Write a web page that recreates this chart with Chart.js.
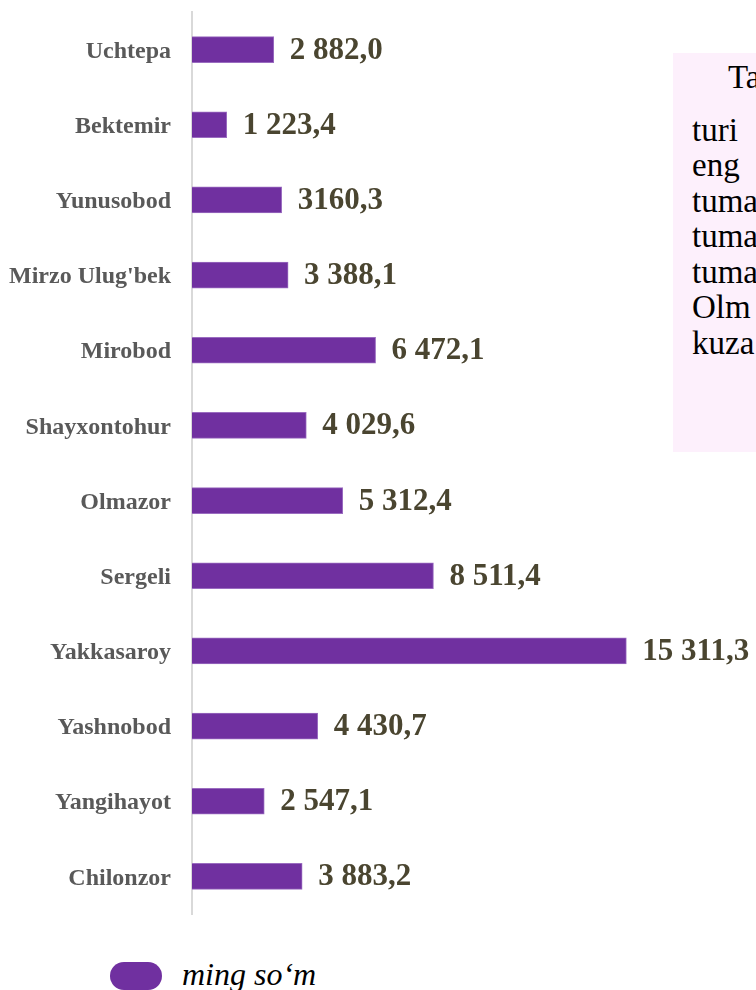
<!DOCTYPE html>
<html>
<head>
<meta charset="utf-8">
<script src="https://cdn.jsdelivr.net/npm/chart.js@4"></script>
<style>
  html, body { margin: 0; padding: 0; background: #fff; overflow: hidden; }
  #wrap { position: relative; width: 756px; height: 990px; }
  #chartBox { position: absolute; left: 0; top: 0; width: 756px; height: 930px; }
  .note {
    position: absolute; left: 673px; top: 53px; width: 120px; height: 399px;
    background: #fdf0fc; font-family: "Liberation Serif", "Times New Roman", serif;
    font-size: 33px; line-height: 35.5px; color: #000; padding: 7px 0 0 19px;
    box-sizing: border-box; white-space: nowrap;
  }
  .note .first { margin-bottom: 17px; text-indent: 36px; }
  .legend { position: absolute; left: 110px; top: 962px; height: 28px; }
  .legend .sw { position: absolute; left: 0; top: 0; width: 52px; height: 28px; border-radius: 14px; background: #7030a0; }
  .legend .tx {
    position: absolute; left: 72px; top: -6px; white-space: nowrap;
    font-family: "Liberation Serif", "Times New Roman", serif; font-style: italic; font-size: 32px; color: #000;
  }
</style>
</head>
<body>
<div id="wrap">
  <div id="chartBox"><canvas id="districtChart"></canvas></div>
  <div class="note">
    <div class="first">Ta</div>
    <div>turi</div>
    <div>eng</div>
    <div>tuma</div>
    <div>tuma</div>
    <div>tuma</div>
    <div>Olm</div>
    <div>kuza</div>
  </div>
  <div class="legend"><span class="sw"></span><span class="tx">ming so‘m</span></div>
</div>
<script>
const districts = ["Uchtepa", "Bektemir", "Yunusobod", "Mirzo Ulug'bek", "Mirobod", "Shayxontohur",
  "Olmazor", "Sergeli", "Yakkasaroy", "Yashnobod", "Yangihayot", "Chilonzor"];
const values = [2882.0, 1223.4, 3160.3, 3388.1, 6472.1, 4029.6, 5312.4, 8511.4, 15311.3, 4430.7, 2547.1, 3883.2];
const valueLabels = ["2 882,0", "1 223,4", "3160,3", "3 388,1", "6 472,1", "4 029,6",
  "5 312,4", "8 511,4", "15 311,3", "4 430,7", "2 547,1", "3 883,2"];

// draws the numbers at the end of each bar
const barValues = {
    id: 'barValues',
    afterDatasetsDraw(chart) {
        const ctx = chart.ctx;
        const meta = chart.getDatasetMeta(0);
        ctx.save();
        ctx.font = 'bold 31px "Liberation Serif", "Times New Roman", serif';
        ctx.fillStyle = '#4a4530';
        ctx.textAlign = 'left';
        ctx.textBaseline = 'middle';
        meta.data.forEach(function (bar, i) {
            ctx.fillText(valueLabels[i], bar.x + 16, bar.y + 1);
        });
        ctx.restore();
    }
};

document.addEventListener("DOMContentLoaded", function () {
    const ctx = document.getElementById("districtChart").getContext('2d');
    new Chart(ctx, {
        type: 'bar',
        data: {
            labels: districts,
            datasets: [{
                label: 'ming so‘m',
                data: values,
                backgroundColor: '#7030a0',
                borderColor: '#9a6cc0',
                borderWidth: 1,
                barThickness: 26
            }]
        },
        options: {
            indexAxis: 'y',
            responsive: true,
            maintainAspectRatio: false,
            animation: false,
            layout: { padding: { top: 12, bottom: 16, right: 25, left: 0 } },
            plugins: {
                legend: { display: false },
                tooltip: { enabled: false }
            },
            scales: {
                x: { display: false, min: 0, max: 19000 },
                y: {
                    afterFit: function (scale) {
                        scale.width = 192;
                        scale.paddingTop = 0;
                        scale.paddingBottom = 0;
                    },
                    grid: { display: false, drawTicks: false },
                    border: { display: true, color: '#d9d9d9', width: 2 },
                    ticks: {
                        padding: 21,
                        labelOffset: 2,
                        color: '#595959',
                        font: { family: '"Liberation Serif", "Times New Roman", serif', weight: 'bold', size: 24 }
                    }
                }
            }
        },
        plugins: [barValues]
    });
});
</script>
</body>
</html>
